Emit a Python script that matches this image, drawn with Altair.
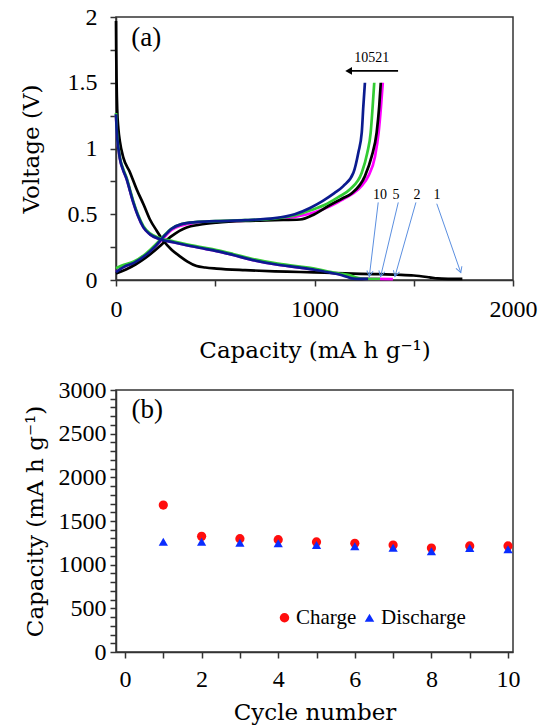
import math
import altair as alt
import pandas as pd

# ---------------- Panel (a): voltage profiles ----------------
# cycle 1 (black)
c1_dis_cap = [0, 1, 3, 6, 12, 20, 37, 70, 104, 140, 171, 205, 238, 280, 322, 360, 406, 450, 507, 650, 800, 927, 1050, 1155, 1300, 1417, 1500, 1580, 1620, 1680, 1745]
c1_dis_v = [1.97, 1.75, 1.5, 1.3, 1.15, 1.05, 0.93, 0.82, 0.69, 0.57, 0.46, 0.375, 0.30, 0.23, 0.18, 0.14, 0.106, 0.095, 0.087, 0.075, 0.066, 0.061, 0.055, 0.05, 0.045, 0.04, 0.034, 0.02, 0.012, 0.009, 0.008]
c1_chg_cap = [0, 50, 100, 150, 200, 230, 280, 356, 420, 507, 675, 800, 927, 1000, 1078, 1140, 1188, 1254, 1288, 1313, 1326, 1334]
c1_chg_v = [0.05, 0.08, 0.12, 0.17, 0.23, 0.27, 0.334, 0.40, 0.42, 0.436, 0.45, 0.455, 0.46, 0.50, 0.57, 0.62, 0.66, 0.79, 0.94, 1.12, 1.32, 1.50]

# cycle 2 (magenta)
c2_dis_cap = [0, 3, 8, 14, 20, 35, 54, 70, 87, 110, 138, 171, 222, 280, 339, 420, 507, 590, 675, 800, 927, 1000, 1078, 1140, 1180, 1220, 1300, 1395]
c2_dis_v = [1.26, 1.15, 1.05, 0.98, 0.92, 0.84, 0.765, 0.68, 0.59, 0.49, 0.40, 0.347, 0.31, 0.29, 0.27, 0.245, 0.22, 0.19, 0.157, 0.12, 0.094, 0.078, 0.055, 0.04, 0.025, 0.012, 0.008, 0.007]
c2_chg_cap = [0, 40, 90, 150, 200, 240, 280, 330, 400, 500, 650, 800, 900, 1000, 1078, 1150, 1196, 1240, 1271, 1305, 1323, 1335, 1344]
c2_chg_v = [0.06, 0.10, 0.13, 0.19, 0.26, 0.32, 0.38, 0.415, 0.435, 0.445, 0.452, 0.462, 0.48, 0.515, 0.56, 0.62, 0.66, 0.72, 0.79, 0.94, 1.12, 1.32, 1.50]

# cycle 5 (green)
c5_dis_cap = [0, 3, 8, 14, 20, 35, 54, 70, 87, 110, 138, 171, 222, 280, 339, 420, 507, 590, 675, 800, 927, 1000, 1078, 1140, 1180, 1205, 1240, 1290, 1330]
c5_dis_v = [1.27, 1.16, 1.06, 0.99, 0.93, 0.85, 0.775, 0.69, 0.60, 0.50, 0.41, 0.355, 0.318, 0.298, 0.278, 0.253, 0.228, 0.198, 0.165, 0.128, 0.102, 0.086, 0.062, 0.046, 0.036, 0.02, 0.01, 0.008, 0.008]
c5_chg_cap = [0, 40, 90, 150, 200, 240, 280, 330, 400, 500, 650, 800, 900, 980, 1050, 1120, 1179, 1238, 1266, 1283, 1293, 1301]
c5_chg_v = [0.09, 0.115, 0.14, 0.20, 0.27, 0.335, 0.39, 0.425, 0.44, 0.447, 0.455, 0.467, 0.49, 0.53, 0.57, 0.63, 0.69, 0.815, 0.967, 1.12, 1.32, 1.50]

# cycle 10 (blue)
c10_dis_cap = [0, 3, 8, 14, 20, 35, 54, 70, 87, 110, 138, 171, 222, 280, 339, 420, 507, 590, 675, 800, 927, 1000, 1078, 1130, 1162, 1196, 1230, 1270]
c10_dis_v = [1.26, 1.15, 1.05, 0.98, 0.92, 0.84, 0.765, 0.68, 0.59, 0.49, 0.40, 0.347, 0.31, 0.29, 0.27, 0.245, 0.22, 0.19, 0.157, 0.12, 0.094, 0.078, 0.056, 0.04, 0.025, 0.01, 0.008, 0.008]
c10_chg_cap = [0, 40, 90, 150, 200, 240, 280, 330, 400, 500, 650, 800, 900, 980, 1040, 1100, 1145, 1196, 1221, 1238, 1246, 1254]
c10_chg_v = [0.06, 0.10, 0.13, 0.19, 0.26, 0.33, 0.39, 0.425, 0.44, 0.447, 0.455, 0.47, 0.50, 0.55, 0.60, 0.66, 0.714, 0.815, 0.97, 1.12, 1.32, 1.50]

cycle_names = ["1", "2", "5", "10"]
cycle_colors = ["#000000", "#ff00ff", "#33cc33", "#0b1b8f"]

# cycle-number annotations (label position, arrow start, arrow tip)
ann_labels = ["10", "5", "2", "1"]
ann_label_cap = [1330, 1411, 1516, 1617]
ann_label_v = [0.65, 0.65, 0.65, 0.65]
ann_from_cap = [1321, 1422, 1511, 1616]
ann_from_v = [0.59, 0.59, 0.59, 0.58]
ann_to_cap = [1276, 1333, 1405, 1737]
ann_to_v = [0.026, 0.026, 0.026, 0.056]

# black "10 5 2 1" arrow
top_text = "10521"
top_text_cap = 1289
top_text_v = 1.69
top_arrow_from_cap = 1421
top_arrow_to_cap = 1185
top_arrow_v = 1.59
top_head_cap = 1172

# ---------------- Panel (b): capacity vs cycle ----------------
cycles = [1, 2, 3, 4, 5, 6, 7, 8, 9, 10]
charge = [1683, 1324, 1298, 1286, 1260, 1244, 1225, 1191, 1214, 1214]
discharge = [1263, 1263, 1252, 1244, 1225, 1210, 1195, 1153, 1191, 1176]

TICK_FONT = "Liberation Serif"
TITLE_FONT = "DejaVu Serif"


def line_df(cap, v, branch):
    return pd.DataFrame({"cap": cap, "V": v, "branch": branch, "idx": list(range(len(cap)))})


curves = {
    "1": (line_df(c1_dis_cap, c1_dis_v, "d"), line_df(c1_chg_cap, c1_chg_v, "c")),
    "2": (line_df(c2_dis_cap, c2_dis_v, "d"), line_df(c2_chg_cap, c2_chg_v, "c")),
    "5": (line_df(c5_dis_cap, c5_dis_v, "d"), line_df(c5_chg_cap, c5_chg_v, "c")),
    "10": (line_df(c10_dis_cap, c10_dis_v, "d"), line_df(c10_chg_cap, c10_chg_v, "c")),
}

WA, HA = 397, 263
xa_scale = alt.Scale(domain=[0, 2000], nice=False, zero=False)
ya_scale = alt.Scale(domain=[0, 2], nice=False, zero=False)

xa_axis = alt.Axis(
    values=[0, 500, 1000, 1500, 2000],
    labelExpr="datum.value % 1000 == 0 ? '' + datum.value : ''",
    title="Capacity (mA h g⁻¹)",
    labelPadding=11, titlePadding=18, labelOverlap=False,
)
ya_axis = alt.Axis(
    values=[0, 0.25, 0.5, 0.75, 1, 1.25, 1.5, 1.75, 2],
    labelExpr="datum.value % 0.5 == 0 ? '' + datum.value : ''",
    title="Voltage (V)",
    labelPadding=13, titlePadding=24, labelOverlap=False,
)


def XA(field):
    return alt.X(field, scale=xa_scale, axis=xa_axis)


def YA(field):
    return alt.Y(field, scale=ya_scale, axis=ya_axis)


order_a = ["2", "1", "5", "10"]
layers_a = []
for name in order_a:
    col = cycle_colors[cycle_names.index(name)]
    df = pd.concat(curves[name], ignore_index=True)
    layers_a.append(
        alt.Chart(df).mark_line(color=col, strokeWidth=2.7, interpolate="monotone").encode(
            x=XA("cap:Q"), y=YA("V:Q"), detail="branch:N", order="idx:Q"
        )
    )

# arrows with cycle labels
ann_df = pd.DataFrame({
    "label": ann_labels,
    "lx": ann_label_cap, "ly": ann_label_v,
    "x1": ann_from_cap, "y1": ann_from_v,
    "x2": ann_to_cap, "y2": ann_to_v,
})
sx = WA / 2000.0
sy = HA / 2.0
ann_df["angle"] = [
    (math.degrees(math.atan2(-(b - a) * sx, -(d - c) * sy)) + 360) % 360
    for a, b, c, d in zip(ann_df.x1, ann_df.x2, ann_df.y1, ann_df.y2)
]
arrow_col = "#5b8fe0"
ann_rules = alt.Chart(ann_df).mark_rule(color=arrow_col, strokeWidth=1).encode(
    x=XA("x1:Q"), y=YA("y1:Q"), x2="x2:Q", y2="y2:Q"
)
ann_heads = alt.Chart(ann_df).mark_point(
    shape="M-0.55,-1L0,0L0.55,-1", filled=False, color=arrow_col, strokeWidth=1, size=130, opacity=1
).encode(
    x=XA("x2:Q"), y=YA("y2:Q"), angle=alt.Angle("angle:Q", scale=None)
)
ann_text = alt.Chart(ann_df).mark_text(font=TICK_FONT, fontSize=14, color="#000000").encode(
    x=XA("lx:Q"), y=YA("ly:Q"), text="label:N"
)

top_df = pd.DataFrame({
    "t": [top_text], "tx": [top_text_cap], "ty": [top_text_v],
    "x1": [top_arrow_from_cap], "x2": [top_arrow_to_cap], "y": [top_arrow_v], "hx": [top_head_cap],
})
top_rule = alt.Chart(top_df).mark_rule(color="#000000", strokeWidth=1.6).encode(
    x=XA("x1:Q"), x2="x2:Q", y=YA("y:Q")
)
top_head = alt.Chart(top_df).mark_point(shape="triangle-left", filled=True, color="#000000", size=60, opacity=1).encode(
    x=XA("hx:Q"), y=YA("y:Q")
)
top_txt = alt.Chart(top_df).mark_text(font=TICK_FONT, fontSize=14, color="#000000").encode(
    x=XA("tx:Q"), y=YA("ty:Q"), text="t:N"
)

tag_a_df = pd.DataFrame({"t": ["(a)"], "x": [152], "y": [1.84]})
tag_a = alt.Chart(tag_a_df).mark_text(font=TICK_FONT, fontSize=27, color="#000000").encode(
    x=XA("x:Q"), y=YA("y:Q"), text="t:N"
)

panel_a = alt.layer(
    *layers_a, ann_rules, ann_heads, ann_text, top_rule, top_head, top_txt, tag_a
).properties(width=WA, height=HA)

# ---------------- Panel (b) ----------------
df_b = pd.DataFrame({
    "cycle": cycles * 2,
    "cap": charge + discharge,
    "series": ["Charge"] * len(cycles) + ["Discharge"] * len(cycles),
})
xb_scale = alt.Scale(domain=[-0.235, 10.13], nice=False, zero=False)
yb_scale = alt.Scale(domain=[0, 3000], nice=False)
xb_axis = alt.Axis(
    values=list(range(0, 11)),
    labelExpr="datum.value % 2 == 0 ? '' + datum.value : ''",
    title="Cycle number", labelPadding=9, titlePadding=10, labelOverlap=False,
)
yb_axis = alt.Axis(
    values=list(range(0, 3001, 100)),
    labelExpr="datum.value % 500 == 0 ? '' + datum.value : ''",
    title="Capacity (mA h g⁻¹)", labelPadding=4, titlePadding=11, labelOverlap=False,
)
legend_b = alt.Legend(
    orient="none", legendX=158, legendY=214 + 373 + 3, direction="horizontal", title=None,
    labelFont=TICK_FONT, labelFontSize=21, labelColor="#000000", symbolSize=90,
    columnPadding=2, labelOffset=1, symbolStrokeWidth=0,
)
points_b = alt.Chart(df_b).mark_point(filled=True, size=85, opacity=1).encode(
    x=alt.X("cycle:Q", scale=xb_scale, axis=xb_axis),
    y=alt.Y("cap:Q", scale=yb_scale, axis=yb_axis),
    color=alt.Color("series:N", scale=alt.Scale(domain=["Charge", "Discharge"], range=["#ff0d0d", "#0a2dff"]), legend=legend_b),
    shape=alt.Shape("series:N", scale=alt.Scale(domain=["Charge", "Discharge"], range=["circle", "triangle-up"]), legend=legend_b),
)
tag_b_df = pd.DataFrame({"t": ["(b)"], "x": [0.58], "y": [2768]})
tag_b = alt.Chart(tag_b_df).mark_text(font=TICK_FONT, fontSize=27, color="#000000").encode(
    x=alt.X("x:Q", scale=xb_scale, axis=xb_axis), y=alt.Y("y:Q", scale=yb_scale, axis=yb_axis), text="t:N"
)
panel_b = alt.layer(points_b, tag_b).properties(width=WA, height=262)

chart = alt.vconcat(panel_a, panel_b, spacing=110, bounds="flush").properties(
    padding={"left": 19, "top": 4, "right": 0, "bottom": 0},
    background="white",
).configure_view(
    stroke="#333333", strokeWidth=1.5
).configure_axis(
    grid=False, domainColor="#333333", domainWidth=1.5, tickColor="#333333", tickWidth=1.5,
    tickSize=6, labelFont=TICK_FONT, labelFontSize=24, labelColor="#000000",
    titleFont=TITLE_FONT, titleFontSize=23, titleFontWeight="normal", titleColor="#000000",
    labelFlush=False, labelOverlap=False,
)

chart.save("out.html", embed_options={"renderer": "svg", "actions": False})
